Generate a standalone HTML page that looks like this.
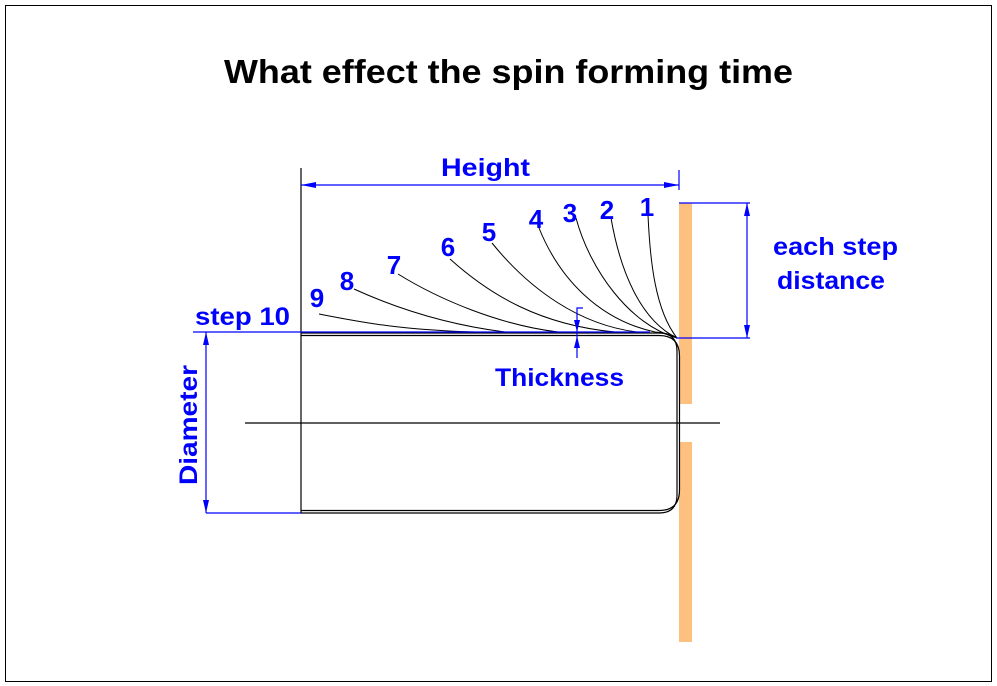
<!DOCTYPE html>
<html><head><meta charset="utf-8"><style>
html,body{margin:0;padding:0;background:#fff;}
svg{display:block;}
text{font-family:"Liberation Sans",sans-serif;font-weight:bold;}
</style></head><body>
<svg width="997" height="686" viewBox="0 0 997 686" xmlns="http://www.w3.org/2000/svg">
<rect x="5.5" y="5.5" width="986" height="676" fill="#fff" stroke="#000" stroke-width="1"/>
<text x="224" y="83" font-size="33" textLength="569" lengthAdjust="spacingAndGlyphs" fill="#000">What effect the spin forming time</text>

<rect x="679" y="203" width="13" height="201" fill="#FDC07F"/>
<rect x="679" y="442" width="13" height="200" fill="#FDC07F"/>

<g fill="none" stroke="#000" stroke-width="1.2">
<path d="M301 333 H659 Q677 333 677 351 V423"/>
<path d="M301 335.5 H659 Q679.5 335.5 679.5 356 V440"/>
<path d="M301 513 H659 Q677 513 677 495 V423"/>
<path d="M301 510.5 H659 Q679.5 510.5 679.5 490 V440"/>
<line x1="301" y1="168" x2="301" y2="513"/>
<line x1="245" y1="423" x2="720" y2="423"/>
</g>

<g fill="none" stroke="#000" stroke-width="1">
<path d="M648 215 C650 260 655 310 677 338"/>
<path d="M611 218 C620 270 640 320 677 338"/>
<path d="M576 218 C590 270 630 325 677 338"/>
<path d="M539 228 C560 280 600 320 655 332 Q670 333 677 338"/>
<path d="M492 243 C530 290 580 325 637 332"/>
<path d="M450 259 C490 295 540 325 615 332"/>
<path d="M398 274 C440 300 500 325 558 332"/>
<path d="M354 289 C400 310 450 325 505 332"/>
<path d="M319 314 C360 322 400 330 475 332"/>
</g>

<g stroke="#0000ff" stroke-width="1.2" fill="none">
<line x1="301" y1="185" x2="679" y2="185"/>
<line x1="679" y1="170" x2="679" y2="190"/>
<line x1="193" y1="332" x2="650" y2="332"/>
<line x1="206" y1="513" x2="301" y2="513"/>
<line x1="206" y1="332" x2="206" y2="513"/>
<line x1="679" y1="203" x2="750" y2="203"/>
<line x1="676" y1="338" x2="750" y2="338"/>
<line x1="747" y1="203" x2="747" y2="338"/>
<polyline points="583,308 577,308 577,358"/>
</g>
<g fill="#0000ff">
<polygon points="301,185 316,182 316,188"/>
<polygon points="679,185 664,182 664,188"/>
<polygon points="206,332 203,345 209,345"/>
<polygon points="206,513 203,500 209,500"/>
<polygon points="747,203 744,216 750,216"/>
<polygon points="747,338 744,325 750,325"/>
<polygon points="577,332 574,320 580,320"/>
<polygon points="577,336 574,348 580,348"/>
</g>

<g fill="#0000ff" font-size="25">
<text x="441" y="176" textLength="89" lengthAdjust="spacingAndGlyphs">Height</text>
<text x="195" y="325" textLength="95" lengthAdjust="spacingAndGlyphs">step 10</text>
<text x="495" y="386" textLength="129" lengthAdjust="spacingAndGlyphs">Thickness</text>
<text x="773" y="255" textLength="125" lengthAdjust="spacingAndGlyphs">each step</text>
<text x="777" y="289" textLength="108" lengthAdjust="spacingAndGlyphs">distance</text>
<text transform="translate(197,485) rotate(-90)" textLength="120" lengthAdjust="spacingAndGlyphs">Diameter</text>
</g>
<g fill="#0000ff" font-size="26" text-anchor="middle">
<text x="647" y="216">1</text>
<text x="607" y="219">2</text>
<text x="570" y="222">3</text>
<text x="536" y="228">4</text>
<text x="489" y="241">5</text>
<text x="448" y="256">6</text>
<text x="394" y="274">7</text>
<text x="347" y="290">8</text>
<text x="317" y="307">9</text>
</g>
</svg>
</body></html>
